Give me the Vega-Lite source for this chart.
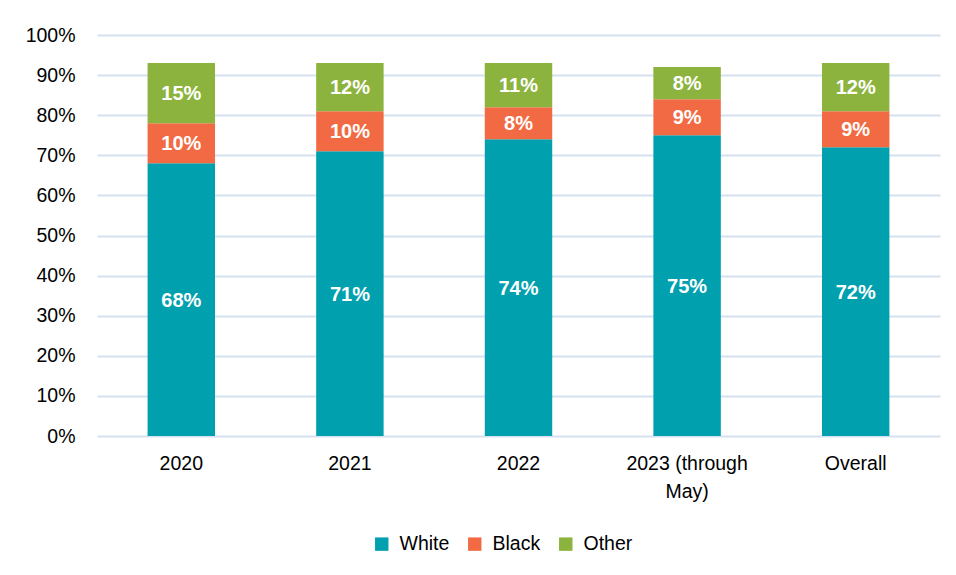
{
  "$schema": "https://vega.github.io/schema/vega-lite/v6.json",
  "autosize": "none",
  "width": 843,
  "height": 401,
  "padding": {"left": 97, "top": 35, "right": 16, "bottom": 139},
  "background": "white",
  "config": {
    "view": {"stroke": null},
    "font": "Liberation Sans",
    "axis": {"labelFont": "Liberation Sans", "labelFontSize": 19.5, "labelColor": "#000000", "ticks": false, "domain": false, "title": null},
    "legend": {"labelFont": "Liberation Sans", "labelFontSize": 19.5, "labelColor": "#000000"}
  },
  "data": {
    "values": [
      {"year": "2020", "race": "White", "order": 1, "value": 68},
      {"year": "2020", "race": "Black", "order": 2, "value": 10},
      {"year": "2020", "race": "Other", "order": 3, "value": 15},
      {"year": "2021", "race": "White", "order": 1, "value": 71},
      {"year": "2021", "race": "Black", "order": 2, "value": 10},
      {"year": "2021", "race": "Other", "order": 3, "value": 12},
      {"year": "2022", "race": "White", "order": 1, "value": 74},
      {"year": "2022", "race": "Black", "order": 2, "value": 8},
      {"year": "2022", "race": "Other", "order": 3, "value": 11},
      {"year": "2023 (through May)", "race": "White", "order": 1, "value": 75},
      {"year": "2023 (through May)", "race": "Black", "order": 2, "value": 9},
      {"year": "2023 (through May)", "race": "Other", "order": 3, "value": 8},
      {"year": "Overall", "race": "White", "order": 1, "value": 72},
      {"year": "Overall", "race": "Black", "order": 2, "value": 9},
      {"year": "Overall", "race": "Other", "order": 3, "value": 12}
    ]
  },
  "transform": [
    {"stack": "value", "groupby": ["year"], "sort": [{"field": "order"}], "as": ["v0", "v1"]},
    {"calculate": "(datum.v0 + datum.v1) / 2", "as": "mid"},
    {"calculate": "datum.value + '%'", "as": "label"}
  ],
  "encoding": {
    "x": {
      "field": "year", "type": "nominal", "sort": null,
      "scale": {"paddingInner": 0.6, "paddingOuter": 0.3},
      "axis": {
        "labelAngle": 0, "labelPadding": 18, "labelLineHeight": 28,
        "labelExpr": "datum.label == '2023 (through May)' ? ['2023 (through', 'May)'] : datum.label"
      }
    }
  },
  "layer": [
    {
      "mark": {"type": "bar"},
      "encoding": {
        "y": {
          "field": "v0", "type": "quantitative",
          "scale": {"domain": [0, 100], "nice": false},
          "axis": {
            "values": [0, 10, 20, 30, 40, 50, 60, 70, 80, 90, 100],
            "labelExpr": "datum.value + '%'",
            "labelPadding": 22,
            "grid": true, "gridColor": "#D6E1EF", "gridWidth": 2
          }
        },
        "y2": {"field": "v1"},
        "color": {
          "field": "race", "type": "nominal",
          "scale": {"domain": ["White", "Black", "Other"], "range": ["#00A0AE", "#F26A43", "#8CB33D"]},
          "legend": {
            "title": null, "orient": "none", "direction": "horizontal",
            "legendX": 275, "legendY": 499,
            "symbolType": "square", "symbolSize": 180, "symbolStrokeWidth": 0,
            "labelOffset": 8, "columnPadding": 15
          }
        }
      }
    },
    {
      "mark": {"type": "text", "color": "white", "fontWeight": "bold", "fontSize": 20, "font": "Liberation Sans", "baseline": "middle", "dy": 1},
      "encoding": {
        "y": {"field": "mid", "type": "quantitative"},
        "text": {"field": "label", "type": "nominal"},
        "detail": {"field": "race"}
      }
    }
  ]
}
